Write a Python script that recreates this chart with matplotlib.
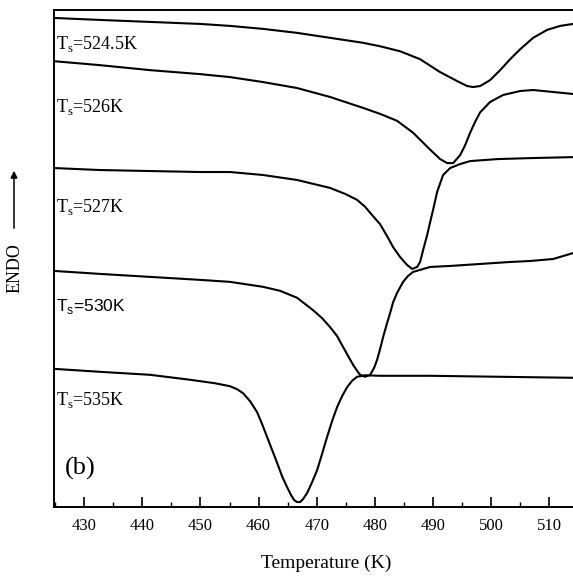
import matplotlib
matplotlib.use("Agg")
import matplotlib.pyplot as plt
from matplotlib.ticker import MultipleLocator

plt.rcParams['mathtext.fontset'] = 'custom'
plt.rcParams['mathtext.rm'] = 'Liberation Serif'
plt.rcParams['mathtext.sf'] = 'Liberation Sans'
plt.rcParams['font.family'] = ['Liberation Serif', 'DejaVu Serif']

# ---- data (temperature in K, signal in arbitrary units) ----
t1 = [424.8, 432.72, 441.32, 449.93, 455.09, 460.77, 466.62, 472.30, 477.98, 480.91,
      484.35, 487.79, 491.24, 494.16, 495.88, 496.92, 498.12, 499.84, 501.56, 503.29,
      505.01, 507.24, 509.65, 511.89, 514.13]
s1 = [98.4, 98.0, 97.6, 97.2, 96.8, 96.2, 95.4, 94.4, 93.4, 92.7,
      91.7, 90.1, 87.5, 85.7, 84.7, 84.5, 84.7, 85.9, 87.9, 90.1,
      92.1, 94.4, 96.0, 96.8, 97.2]

t2 = [424.8, 432.72, 441.32, 449.93, 455.09, 460.77, 466.62, 472.30, 477.98, 480.91,
      483.84, 486.59, 489.52, 491.24, 492.44, 493.48, 494.68, 495.54, 496.40, 497.26,
      498.12, 499.84, 502.08, 505.01, 507.24, 510.69, 514.13]
s2 = [89.7, 88.9, 87.9, 87.1, 86.5, 85.5, 84.3, 82.5, 80.3, 79.1,
      77.7, 75.3, 71.9, 70.0, 69.2, 69.2, 70.8, 72.8, 75.3, 77.5,
      79.4, 81.5, 82.9, 83.7, 83.9, 83.5, 83.1]

t3 = [424.8, 432.72, 441.32, 449.93, 455.09, 460.77, 466.62, 472.30, 474.89, 476.95,
      478.33, 479.71, 480.91, 482.11, 483.15, 484.35, 485.56, 486.42, 487.28, 487.79,
      488.31, 489.00, 489.52, 490.03, 490.72, 491.75, 492.96, 494.68, 496.40, 501.05,
      506.73, 514.13]
s3 = [68.2, 67.8, 67.6, 67.4, 67.4, 66.8, 65.8, 64.2, 63.0, 61.8,
      60.4, 58.5, 56.9, 54.5, 52.3, 50.3, 48.7, 47.9, 48.3, 49.3,
      51.7, 54.7, 57.3, 59.8, 63.4, 66.8, 68.2, 69.0, 69.6, 70.0,
      70.2, 70.4]

t4 = [424.8, 432.72, 441.32, 449.93, 455.09, 460.77, 463.70, 466.62, 469.38, 470.93,
      472.30, 473.51, 474.54, 475.40, 476.26, 476.95, 477.47, 478.33, 479.19, 479.88,
      480.39, 480.91, 481.43, 482.11, 482.63, 483.15, 483.84, 484.87, 485.73, 486.59,
      489.52, 492.96, 498.12, 503.29, 506.73, 510.69, 512.41, 514.13]
s4 = [47.5, 46.9, 46.3, 45.7, 45.3, 44.3, 43.5, 42.1, 39.6, 38.0,
      36.2, 34.4, 32.2, 30.4, 28.6, 27.4, 26.6, 26.2, 26.6, 28.0,
      29.6, 31.8, 34.2, 37.0, 39.0, 41.2, 43.1, 45.3, 46.5, 47.3,
      48.3, 48.5, 48.9, 49.3, 49.5, 49.9, 50.5, 51.1]

t5 = [424.8, 432.72, 441.32, 448.21, 452.51, 455.09, 456.30, 457.33, 458.53, 459.74,
      460.60, 461.46, 462.32, 463.18, 464.04, 464.90, 465.59, 466.11, 466.62, 467.14,
      467.66, 468.35, 469.21, 470.07, 470.93, 471.79, 472.65, 473.51, 474.37, 475.23,
      476.09, 476.95, 478.33, 480.91, 489.52, 501.56, 514.13]
s5 = [27.8, 27.2, 26.6, 25.6, 24.9, 24.3, 23.7, 22.9, 21.3, 19.1,
      16.7, 14.1, 11.5, 8.9, 6.2, 4.0, 2.4, 1.4, 1.0, 1.0,
      1.6, 2.8, 5.0, 7.4, 10.7, 14.1, 17.3, 20.1, 22.3, 24.1,
      25.4, 26.2, 26.5, 26.4, 26.4, 26.2, 26.0]

labels = ['524.5K', '526K', '527K', '530K', '535K']
label_y = [93.2, 80.5, 60.4, 40.4, 21.5]
xticks = [430, 440, 450, 460, 470, 480, 490, 500, 510]

fig = plt.figure(figsize=(5.73, 5.87), dpi=100)
ax = fig.add_axes([54/573, 1-507/587, 1-54/573, (507-10)/587])

for t, s in [(t1, s1), (t2, s2), (t3, s3), (t4, s4), (t5, s5)]:
    ax.plot(t, s, color='black', lw=1.5, solid_capstyle='round', solid_joinstyle='round',
            antialiased=True)

ax.set_xlim(424.8, 514.1)
ax.set_ylim(0, 100)
ax.set_xticks(xticks)
ax.xaxis.set_minor_locator(MultipleLocator(5))
ax.tick_params(axis='x', which='major', direction='in', length=7, width=1.2,
               labelsize=12, pad=8)
ax.tick_params(axis='x', which='minor', direction='in', length=3.5, width=1.0)
ax.tick_params(axis='y', left=False, labelleft=False)
ax.spines['right'].set_visible(False)
for sp in ['left', 'bottom', 'top']:
    ax.spines[sp].set_linewidth(1.4)

for lab, ly in zip(labels, label_y):
    if lab == '530K':
        ax.text(425.1, ly, r'T$_{\mathsf{s}}$=' + lab, fontsize=12.5, family='Liberation Sans',
                ha='left', va='center')
    else:
        ax.text(425.1, ly, r'T$_{\mathrm{s}}$=' + lab, fontsize=13,
                ha='left', va='center')

ax.text(426.6, 7.8, '(b)', fontsize=19, ha='left', va='center')

fig.text(326/573, 1-563/587, 'Temperature (K)', fontsize=14, ha='center', va='center')
fig.text(15/573, 1-268/587, 'ENDO', fontsize=13, rotation=90, ha='center', va='center')
fig.add_artist(matplotlib.patches.FancyArrowPatch(
    (14/573, 1-231/587), (14/573, 1-168/587), transform=fig.transFigure,
    arrowstyle='-|>', mutation_scale=10, lw=1.1, color='black'))

fig.savefig('out.png', dpi=100)
